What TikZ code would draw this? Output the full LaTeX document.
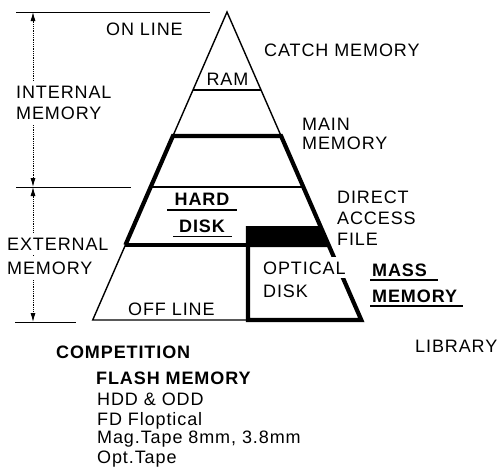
\documentclass[tikz,border=0pt]{standalone}
\usepackage{fontspec}
\setmainfont{Liberation Sans}[LetterSpace=5]
\usetikzlibrary{arrows.meta}
\tikzset{
  lbl/.style={font=\fontsize{18}{21}\selectfont, inner sep=0pt, anchor=base west},
  clbl/.style={lbl, anchor=base},
  blbl/.style={lbl, font=\fontsize{18}{21}\selectfont\bfseries},
  bclbl/.style={blbl, anchor=base},
  wlbl/.style={lbl, fill=white, inner ysep=5pt},
  edgethin/.style={line width=1.4pt, line join=miter},
  edgethick/.style={line width=4.2pt, line join=miter},
  uline/.style={line width=1.3pt},
  dimline/.style={line width=0.8pt, densely dotted,
    {Latex[length=9pt,width=5pt]}-{Latex[length=9pt,width=5pt]}},
  refline/.style={line width=0.8pt},
}
\begin{document}
\begin{tikzpicture}[x=1pt,y=-1pt]
\useasboundingbox (0,0) rectangle (500,471);

% pyramid corner points
\coordinate (A) at (227,12);
\coordinate (r1l) at (193,90);   \coordinate (r1r) at (261,90);
\coordinate (m1l) at (172.9,136);\coordinate (m1r) at (281.1,136);
\coordinate (h1l) at (150.7,187);\coordinate (h1r) at (303.3,187);
\coordinate (h2l) at (125.4,245);
\coordinate (bl) at (92.7,320);  \coordinate (br) at (361.3,320);
\coordinate (bxt) at (248,226);  \coordinate (bxb) at (248,320);
\coordinate (bxm) at (248,245);

% black band
\fill (246,226) -- (320.3,226) -- (329.5,247) -- (246,247) -- cycle;

% thin lines
\draw[edgethin] (m1l) -- (A) -- (m1r);
\draw[edgethin] (r1l) -- (r1r);
\draw[edgethin] (h1l) -- (h1r);
\draw[edgethin] (h2l) -- (bl) -- (bxb);

% thick lines
\draw[edgethick] (h2l) -- (m1l) -- (m1r) -- (br) -- (bxb) -- (bxt);
\draw[edgethick] (h2l) -- (bxm);

% dimension lines
\coordinate (t0) at (16,12);   \coordinate (t1) at (210,12);
\coordinate (c0) at (16,187);  \coordinate (c1) at (131,187);
\coordinate (b0) at (15,322);  \coordinate (b1) at (76,322);
\coordinate (dt) at (33,12); \coordinate (dm) at (33,187); \coordinate (db) at (33,322);
\draw[refline] (t0) -- (t1);
\draw[refline] (c0) -- (c1);
\draw[refline] (b0) -- (b1);
\draw[dimline] (dt) -- (dm);
\draw[dimline] (dm) -- (db);

% labels
\node[lbl] (online) at (106,35.5) {ON LINE};
\node[lbl] (catch) at (264,56) {CATCH MEMORY};
\node[clbl] (ram) at (227.5,85) {RAM};
\node[wlbl] (int1) at (16,98) {INTERNAL};
\node[wlbl] (int2) at (16,119) {MEMORY};
\node[lbl] (main1) at (302,130) {MAIN};
\node[lbl] (main2) at (302,149) {MEMORY};
\node[wlbl] (ext1) at (7,250) {EXTERNAL};
\node[wlbl] (ext2) at (7,274) {MEMORY};
\node[bclbl] (hard) at (202,205) {HARD};
\node[bclbl] (disk) at (202,232) {DISK};
\node[lbl] (dir1) at (337,203) {DIRECT};
\node[lbl] (dir2) at (337,224) {ACCESS};
\node[lbl] (dir3) at (337,245) {FILE};
\node[lbl, fill=white, inner xsep=2pt, inner ysep=4pt] (opt1) at (261,274) {OPTICAL};
\node[lbl] (opt2) at (263,297) {DISK};
\node[blbl] (mass1) at (372,276) {MASS};
\node[blbl] (mass2) at (372,302) {MEMORY};
\node[lbl] (offline) at (128,315) {OFF LINE};
\node[lbl] (library) at (415,352) {LIBRARY};
\node[blbl] (comp) at (56,358) {COMPETITION};
\node[blbl] (flash) at (96,384) {FLASH MEMORY};
\node[lbl] (hdd) at (97,405) {HDD \& ODD};
\node[lbl] (fd) at (97,425) {FD Floptical};
\node[lbl] (mag) at (97,443) {Mag.Tape 8mm, 3.8mm};
\node[lbl] (opt) at (97,463) {Opt.Tape};

% underlines
\draw[uline] (167,210) -- (237,210);
\draw[uline] (173,236.5) -- (232,236.5);
\draw[uline] (370,280) -- (438,280);
\draw[uline] (370,306) -- (463,306);
\end{tikzpicture}
\end{document}
